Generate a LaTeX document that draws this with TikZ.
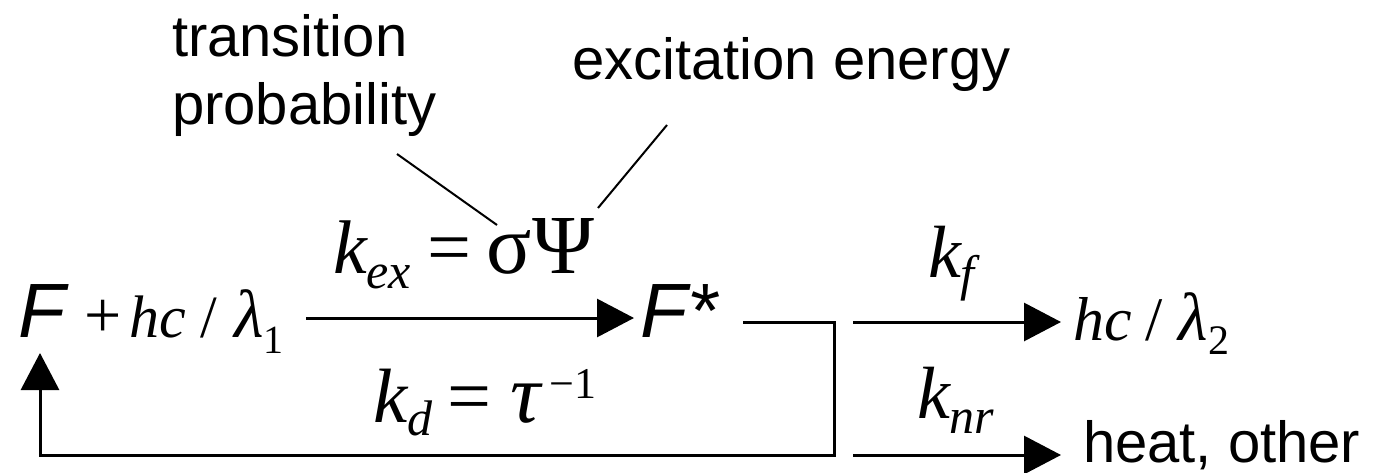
\documentclass[tikz,border=0pt]{standalone}
\usepackage{fontspec}
\setmainfont{Liberation Serif}
\newfontfamily\arialf{Liberation Sans}
\newfontfamily\timesf{Liberation Serif}
\usetikzlibrary{arrows.meta}
\newcommand\ssz[1]{\fontsize{#1}{#1}\selectfont}
\begin{document}
\begin{tikzpicture}[x=1pt,y=-1pt,
  lbl/.style={inner sep=0pt, outer sep=0pt, anchor=base west},
  arr/.style={line width=3pt, line join=miter, -{Triangle[length=37pt,width=38pt]}},
  lead/.style={line width=2pt}]
\useasboundingbox (0,0) rectangle (1375,473);
% annotations
\node[lbl] (tp1) at (172,57) {\arialf\ssz{58}transition};
\node[lbl] (tp2) at (172,125) {\arialf\ssz{58}probability};
\node[lbl] (ee) at (572,80) {\arialf\ssz{58}excitation energy};
% main line
\node[lbl] (F) at (18,337) {\arialf\itshape\ssz{77}F};
\node[lbl] (lhs) at (84,337) {\timesf\ssz{66}+\kern8pt\ssz{60}\textit{hc}\kern15pt/\kern17pt{\ssz{68}\textit{λ}}\raisebox{-16pt}{\ssz{40}1}};
\node[lbl] (kex) at (333,273) {\timesf\itshape\ssz{76}k\raisebox{-15pt}{\ssz{50}ex}};
\node[lbl] (sp) at (427,273) {\timesf\ssz{78}=\kern16pt\ssz{84}σΨ};
\node[lbl] (Fs) at (640,337) {\arialf\itshape\ssz{77}F*};
\node[lbl] (kd) at (373,422) {\timesf\itshape\ssz{77}k\raisebox{-13pt}{\ssz{50}d}};
\node[lbl] (tau) at (447,422) {\timesf\ssz{78}=\kern20pt{\ssz{84}\textit{τ}}\kern6pt\raisebox{24pt}{\ssz{44}−1}};
\node[lbl] (kf) at (928,277) {\timesf\itshape\ssz{74}k\raisebox{-13pt}{\ssz{50}f}};
\node[lbl] (knr) at (917,418) {\timesf\itshape\ssz{74}k\raisebox{-15pt}{\ssz{50}nr}};
\node[lbl] (rhs) at (1073,340) {\timesf\ssz{62}\textit{hc}\kern14pt/\kern16pt{\ssz{68}\textit{λ}}\raisebox{-14pt}{\ssz{42}2}};
\node[lbl] (heat) at (1083,462) {\arialf\ssz{58}heat, other};
% connector points
\coordinate (a1s) at (306,318); \coordinate (a1e) at (634,318);
\coordinate (l1a) at (397,154); \coordinate (l1b) at (497,225);
\coordinate (l2a) at (667,125); \coordinate (l2b) at (598,208);
\coordinate (b0) at (743,322); \coordinate (b1) at (834,322);
\coordinate (b2) at (834,455); \coordinate (b3) at (40,455); \coordinate (b4) at (40,353);
\coordinate (r1a) at (853,322); \coordinate (r1b) at (1061,322);
\coordinate (r2a) at (853,455); \coordinate (r2b) at (1061,455);
% connectors
\draw[lead] (l1a) -- (l1b);
\draw[lead] (l2a) -- (l2b);
\draw[arr] (a1s) -- (a1e);
\draw[arr] (b0) -- (b1) -- (b2) -- (b3) -- (b4);
\draw[arr] (r1a) -- (r1b);
\draw[arr] (r2a) -- (r2b);
\end{tikzpicture}
\end{document}
